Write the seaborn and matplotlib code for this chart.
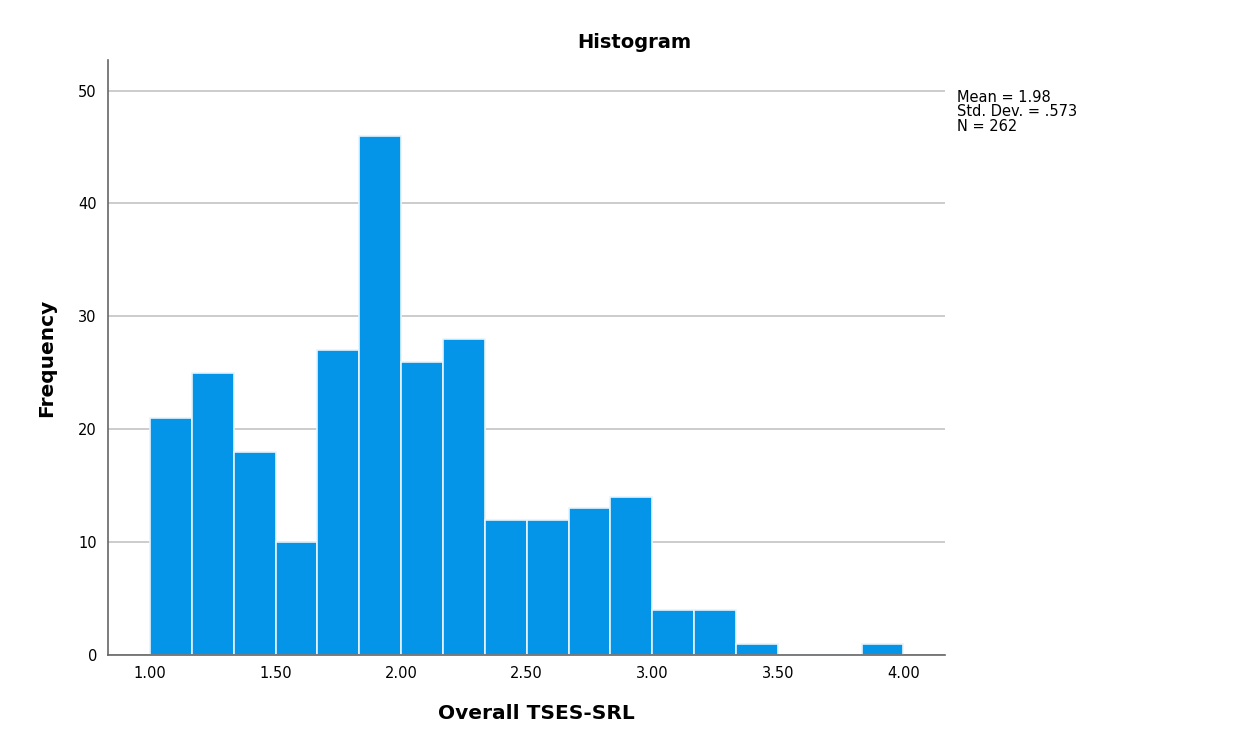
import matplotlib
matplotlib.use("Agg")
import matplotlib.pyplot as plt
import seaborn as sns
import numpy as np
import pandas as pd

# bin edges (width 1/6) and frequencies
bin_edges = list(np.linspace(1.0, 4.0, 19))
counts = [21, 25, 18, 10, 27, 46, 26, 28, 12, 12, 13, 14, 4, 4, 1, 0, 0, 1]
xticks = [1.00, 1.50, 2.00, 2.50, 3.00, 3.50, 4.00]
yticks = [0, 10, 20, 30, 40, 50]

sns.set_style("white")
plt.rcParams['font.family'] = ['DejaVu Sans']
plt.rcParams['text.color'] = 'black'

fig = plt.figure(figsize=(12.49, 7.38), dpi=100)
ax = fig.add_axes([0.0865, 0.1125, 0.670, 0.806])

edges = np.array(bin_edges)
df = pd.DataFrame({"score": (edges[:-1] + edges[1:]) / 2, "freq": counts})
sns.histplot(data=df, x="score", weights="freq", bins=bin_edges, ax=ax,
             color="#0494E8", alpha=1, edgecolor="#e8f4fc", linewidth=1.2)

ax.set_xlim(0.833, 4.165)
ax.set_ylim(0, 52.7)
ax.set_xticks(xticks)
ax.set_xticklabels([f"{t:.2f}" for t in xticks], fontsize=10.5)
ax.set_yticks(yticks)
ax.set_yticklabels([str(t) for t in yticks], fontsize=10.5)
ax.tick_params(length=0, pad=8, labelcolor="black")
ax.yaxis.grid(True, color="#c4c4c4", linewidth=1.2)
ax.set_axisbelow(True)
for s in ["top", "right"]:
    ax.spines[s].set_visible(False)
for s in ["left", "bottom"]:
    ax.spines[s].set_color("#666666")
    ax.spines[s].set_linewidth(1.2)

fig.text(0.508, 0.942, "Histogram", fontsize=14, fontweight="bold",
         ha="center", va="center")
ax.set_xlabel("Overall TSES-SRL", fontsize=14.5, fontweight="bold",
              color="black")
ax.xaxis.set_label_coords(0.512, -0.083)
ax.set_ylabel("Frequency", fontsize=14.5, fontweight="bold", color="black")
ax.yaxis.set_label_coords(-0.062, 0.5)

fig.text(0.766, 0.878, "Mean = 1.98\nStd. Dev. = .573\nN = 262",
         fontsize=10.5, va="top", ha="left", linespacing=0.95)

fig.savefig("out.png", dpi=100)
